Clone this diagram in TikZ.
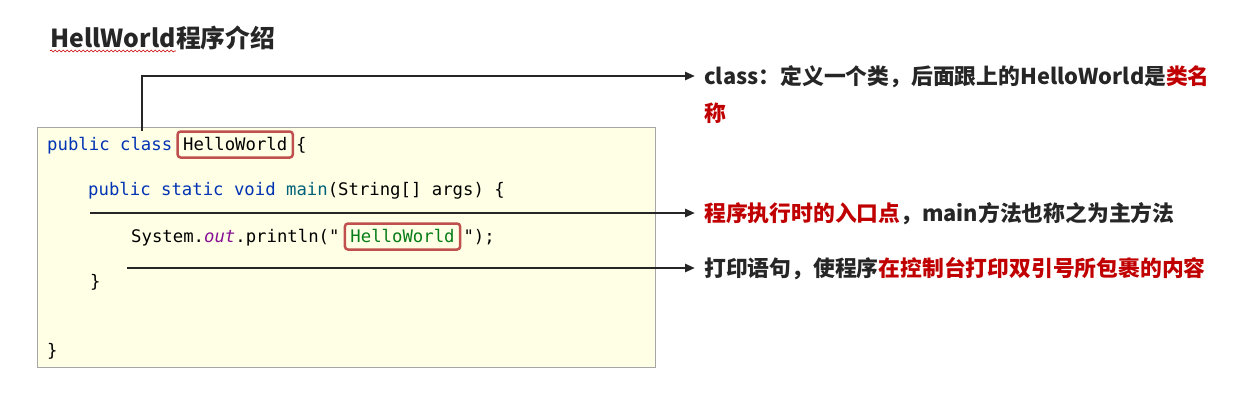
\documentclass[tikz,border=0pt]{standalone}
\usepackage{fontspec}
\setmonofont{DejaVu Sans Mono}
\newfontfamily\cjk{Noto Sans CJK SC}
\usepackage{xcolor}
\usetikzlibrary{arrows.meta,calc,positioning,decorations.pathmorphing}
\definecolor{kwblue}{HTML}{0033B3}
\definecolor{fnteal}{HTML}{00627A}
\definecolor{fldpurple}{HTML}{871094}
\definecolor{strgreen}{HTML}{067D17}
\definecolor{boxred}{HTML}{C0504D}
\definecolor{notered}{HTML}{C00000}
\definecolor{ink}{HTML}{262626}
\definecolor{codebg}{HTML}{FFFFE6}

\begin{document}
\begin{tikzpicture}[x=1pt,y=-1pt,>={Triangle[length=10pt,width=8pt]}]
 \tikzstyle{code}=[inner sep=0pt, anchor=base west, font=\fontsize{17.3}{20}\selectfont\ttfamily, text=black]
 \tikzstyle{hl}=[code, draw=boxred, line width=2.5pt, rounded corners=3pt, inner xsep=5.5pt, inner ysep=5.5pt, text height=13pt, text depth=2pt]
 \tikzstyle{title}=[anchor=base west, inner sep=0pt, font=\cjk\bfseries\fontsize{24.8}{30}\selectfont, text=ink]
 \tikzstyle{note}=[anchor=west, inner xsep=9pt, inner ysep=0pt, font=\cjk\bfseries\fontsize{21.8}{26}\selectfont, text=ink, text height=19.2pt, text depth=2.6pt]
 \tikzstyle{pointer}=[->, draw=ink, line width=2.8pt]
 \useasboundingbox (0,0) rectangle (1249,402);

 \node[title] (ttlA) at (50,47) {HellWorld};
 \node[title] (ttlB) at (ttlA.base east) {程序介绍};
 \draw[red!80!black, line width=0.6pt, decorate, decoration={snake, amplitude=1pt, segment length=4pt}]
   ($(ttlA.base west)+(0,4)$) -- ($(ttlA.base east)+(0,4)$);

 \node[draw=gray!70, fill=codebg, line width=1pt, minimum width=618pt, minimum height=240pt,
       anchor=north west, inner sep=0pt] (codebox) at (37,127) {};

 \node[code, text=kwblue] (l1a) at (47,150) {public class};
 \node[hl] (hw1) at ($(l1a.base east)+(4,0)$) {HelloWorld\hspace{7pt}};
 \node[code] (l1b) at ($(hw1.base east)+(2,0)$) {\{};
 \node[code] (l2) at (88,195) {\textcolor{kwblue}{public static void} \textcolor{fnteal}{main}(String[] args) \{};
 \node[code] (l3a) at (131,242) {System.\textcolor{fldpurple}{\itshape out}.println("};
 \node[hl, text=strgreen] (hw2) at ($(l3a.base east)+(4,0)$) {HelloWorld\hspace{15pt}};
 \node[code] (l3b) at ($(hw2.base east)+(2,0)$) {");};
 \node[code] (l4) at (90,287) {\}};
 \node[code] (l5) at (47,356) {\}};

 \node[note] (n1) at (695,76) {class：定义一个类，后面跟上的HelloWorld是\textcolor{notered}{类名}};
 \node[note, text=notered] (n1b) at ($(n1.west)+(0,37)$) {称};
 \node[note] (n2) at (695,213) {\textcolor{notered}{程序执行时的入口点}，main方法也称之为主方法};
 \node[note] (n3) at (695,268) {打印语句，使程序\textcolor{notered}{在控制台打印双引号所包裹的内容}};

 \coordinate (c1) at (142,131);
 \coordinate (c2) at (90,213);
 \coordinate (c3) at (127,268);
 \draw[pointer] (c1) |- (n1.west);
 \draw[pointer] (c2) -- (n2.west);
 \draw[pointer] (c3) -- (n3.west);
\end{tikzpicture}
\end{document}
